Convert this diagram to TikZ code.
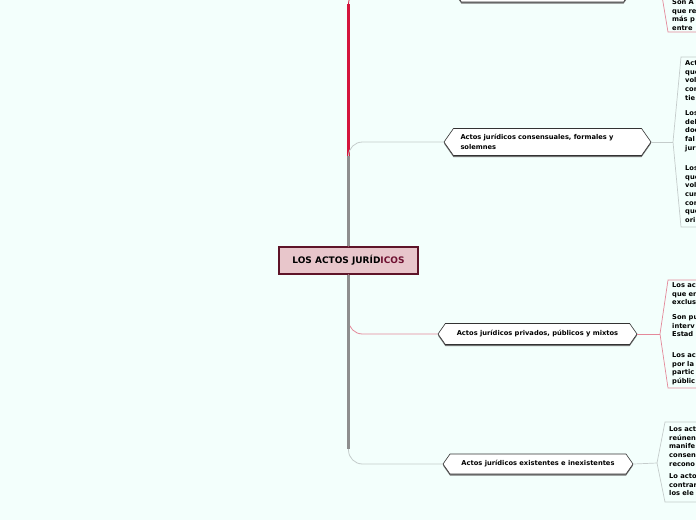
\documentclass[tikz,border=0pt]{standalone}
\usepackage{fontspec}
\setmainfont{DejaVu Sans}
\usetikzlibrary{shapes.symbols,shadows}

\definecolor{bgc}{HTML}{F3FFFC}
\definecolor{rootfill}{HTML}{E8C6CB}
\definecolor{rootline}{HTML}{5E1428}
\definecolor{rootword}{HTML}{6E1030}
\definecolor{trunkred}{HTML}{D4163C}
\definecolor{thinred}{HTML}{E4899A}
\definecolor{trunkgray}{HTML}{8E8E8E}
\definecolor{thingray}{HTML}{C4CCCB}

\newcommand{\fsz}[2]{\fontsize{#1}{#2}\selectfont}
\newcommand{\firstln}{\rule{0pt}{5pt}}

\begin{document}
\begin{tikzpicture}[x=1pt,y=-1pt,
  root/.style={draw=rootline, line width=1.1pt, fill=rootfill,
    minimum width=139pt, minimum height=27pt, inner sep=0pt,
    font=\fsz{9}{10}\bfseries},
  topic/.style={shape=signal, signal to=west and east, signal pointer angle=110,
    draw=black!80, line width=0.6pt, fill=white, inner sep=0pt,
    font=\fsz{6.7}{10}\bfseries,
    drop shadow={shadow xshift=0pt, shadow yshift=-1.6pt, opacity=1, fill=black!55}},
  txt/.style={anchor=north west, inner sep=0pt, align=left,
    font=\fsz{6.7}{8.6}\bfseries},
  trunk/.style={line width=2.2pt},
  twig/.style={line width=0.8pt, rounded corners=14pt},
  brace/.style={line width=0.7pt}]

  \useasboundingbox (0,0) rectangle (696,520);
  \clip (0,0) rectangle (696,520);
  \fill[bgc] (0,0) rectangle (696,520);

  % central idea
  \node[root] (root) at (348.5,260.5) {LOS ACTOS JURÍD\textcolor{rootword}{ICOS}};

  % main topics
  \node[topic, minimum width=179pt, minimum height=24pt] (t1) at (542.5,-10) {};
  \node[topic, minimum width=207pt, minimum height=27pt, text width=174pt, align=left,
    font=\fsz{6.7}{9.5}\bfseries] (t2) at (547.5,142)
    {Actos jurídicos consensuales, formales y\\solemnes};
  \node[topic, minimum width=199pt, minimum height=21pt] (t3) at (537.5,334)
    {Actos jurídicos privados, públicos y mixtos};
  \node[topic, minimum width=190pt, minimum height=20pt] (t4) at (538,464)
    {Actos jurídicos existentes e inexistentes};

  % bends of the trunk
  \coordinate (k1) at (348.5,4);
  \coordinate (k2) at (348.5,156);
  \coordinate (k3) at (348.5,320);
  \coordinate (k4) at (348.5,449);

  \draw[trunkred, twig] (root.north) |- (t1.west);
  \draw[trunkred, trunk] (root.north) -- (k1);
  \draw[thinred, twig] (root.south) |- (t3.west);
  \draw[trunkred, trunk] (root.south) -- (k3);
  \draw[thingray, twig] (root.north) |- (t2.west);
  \draw[trunkgray, trunk] (root.north) -- (k2);
  \draw[thingray, twig] (root.south) |- (t4.west);
  \draw[trunkgray, trunk] (root.south) -- (k4);

  % subtopic braces
  \coordinate (a1) at (661,-10);
  \coordinate (a2) at (673,142);
  \coordinate (a3) at (660,334);
  \coordinate (a4) at (657,463);

  \draw[thinred, brace] (t1.east) -- (a1);
  \draw[thinred, brace] (710,-52) -- (668,-52) -- (a1) -- (668,32) -- (710,32);
  \draw[thingray, brace] (t2.east) -- (a2);
  \draw[thingray, brace] (710,57) -- (681,57) -- (a2) -- (681,227) -- (710,227);
  \draw[thinred, brace] (t3.east) -- (a3);
  \draw[thinred, brace] (710,280) -- (668,280) -- (a3) -- (668,388) -- (710,388);
  \draw[thingray, brace] (t4.east) -- (a4);
  \draw[thingray, brace] (710,422) -- (665,422) -- (a4) -- (665,502) -- (710,502);

  % subtopic texts
  \node[txt] (s1) at (672,-0.6) {\firstln Son A\\que re\\más p\\entre};

  \node[txt] (s2a) at (685,60.4) {\firstln Act\\que\\vol\\con\\tie};
  \node[txt] (s2b) at (685,110.4) {\firstln Los\\del\\doc\\fal\\jur};
  \node[txt] (s2c) at (685,165.4) {\firstln Los\\que\\vol\\cun\\con\\que\\ori};

  \node[txt] (s3a) at (672,282.4) {\firstln Los ac\\que en\\exclus};
  \node[txt] (s3b) at (672,314.4) {\firstln Son pu\\interv\\Estad};
  \node[txt] (s3c) at (672,352.4) {\firstln Los ac\\por la\\partic\\públic};

  \node[txt] (s4a) at (669,426.4) {\firstln Los act\\reúnen\\manife\\consen\\recono};
  \node[txt] (s4b) at (669,473.4) {\firstln Lo acto\\contrar\\los ele};
\end{tikzpicture}
\end{document}
